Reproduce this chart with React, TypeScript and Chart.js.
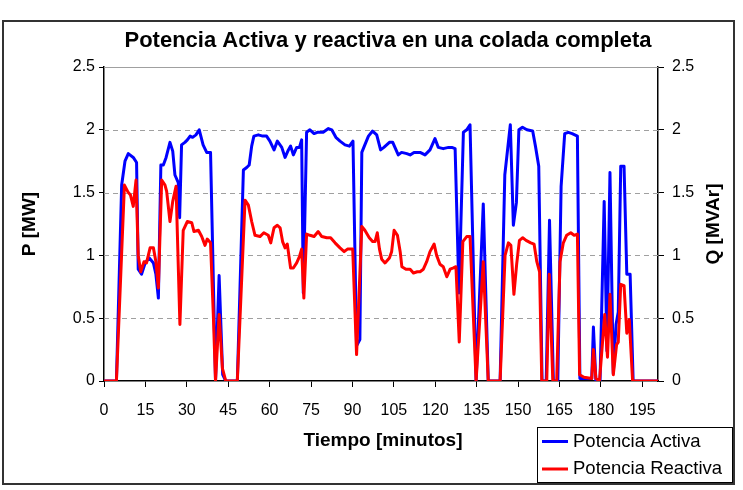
import React, { useEffect, useRef } from "react";
import { Chart, registerables } from "chart.js";

Chart.register(...registerables);

// Chart text
const TITLE = "Potencia Activa y reactiva en una colada completa";
const X_TITLE = "Tiempo [minutos]";
const Y_LEFT_TITLE = "P [MW]";
const Y_RIGHT_TITLE = "Q [MVAr]";
const SERIES_NAMES = ["Potencia Activa", "Potencia Reactiva"];

// Axis ticks
const X_TICKS = [0, 15, 30, 45, 60, 75, 90, 105, 120, 135, 150, 165, 180, 195];
const Y_TICKS = [0, 0.5, 1, 1.5, 2, 2.5];
const X_MAX = 200.7;

// Active power P [MW] over time [min]
const TIME_P = [
  0, 4.5, 6.4, 7.6, 8.8, 10.6, 11.8, 12.4, 13.6, 14.9, 16.4, 17.9, 18.8, 19.7,
  20.6, 21.5, 22.5, 23.9, 24.9, 25.7, 26.9, 27.4, 28.1, 29.3, 30.2, 31.2, 32.1,
  33.3, 34.5, 35.9, 37.2, 38.6, 40.4, 41.7, 43.0, 44.1, 48.3, 50.5, 51.7, 52.6,
  53.5, 54.3, 55.9, 57.5, 58.9, 60.1, 61.6, 62.8, 64.4, 65.6, 66.8, 67.6, 68.6,
  69.8, 70.8, 71.6, 72.2, 73.4, 74.6, 76.1, 77.3, 79.4, 81.3, 82.5, 84.0, 85.5,
  87.3, 88.9, 90.2, 91.5, 92.7, 93.4, 94.5, 95.8, 97.3, 98.8, 100.2, 101.4,
  103.4, 104.6, 105.4, 106.6, 107.8, 109.7, 110.9, 112.3, 114.5, 116.3, 118.1,
  119.3, 119.9, 121.1, 122.9, 124.8, 126.0, 127.2, 128.6, 130.2, 131.4, 132.6,
  134.8, 137.4, 139.2, 143.5, 145.2, 147.2, 148.3, 149.4, 150.3, 151.6, 153.2,
  155.3, 156.3, 157.5, 158.7, 160.2, 161.4, 162.8, 164.4, 165.6, 166.9, 168.2,
  169.6, 171.5, 172.4, 176.7, 177.3, 178.2, 179.7, 181.2, 182.2, 183.3, 184.5,
  185.5, 186.3, 187.2, 188.4, 189.4, 190.6, 191.7, 200.7,
];
const P_MW = [
  0, 0, 1.56, 1.75, 1.81, 1.78, 1.74, 0.89, 0.85, 0.94, 0.98, 0.94, 0.85, 0.66,
  1.72, 1.72, 1.78, 1.9, 1.83, 1.64, 1.58, 1.3, 1.88, 1.9, 1.92, 1.95, 1.94,
  1.96, 2.0, 1.88, 1.82, 1.82, 0, 0.84, 0.05, 0, 0, 1.68, 1.7, 1.72,
  1.87, 1.95, 1.96, 1.95, 1.95, 1.91, 1.84, 1.91, 1.86, 1.78, 1.84, 1.87, 1.8,
  1.86, 1.86, 1.92, 0.7, 1.98, 2.0, 1.97, 1.98, 1.98, 2.01, 2.0, 1.94, 1.91,
  1.88, 1.87, 1.91, 0.28, 0.33, 1.82, 1.88, 1.95, 1.99, 1.96, 1.84, 1.86,
  1.9, 1.9, 1.86, 1.8, 1.82, 1.81, 1.8, 1.82, 1.82, 1.8, 1.84,
  1.9, 1.93, 1.86, 1.85, 1.86, 1.86, 1.85, 0.7, 1.98, 2.0, 2.04,
  0, 1.41, 0, 0, 1.64, 2.04, 1.24, 1.42, 2.0, 2.02, 2.0,
  1.99, 1.87, 1.71, 0, 0, 1.28, 0, 0, 1.55, 1.97, 1.98,
  1.97, 1.95, 0.02, 0.02, 0.43, 0, 0, 1.43, 0.24, 1.66, 0.06,
  0.45, 0.55, 1.71, 1.71, 0.85, 0.85, 0, 0,
];

// Reactive power Q [MVAr] over time [min]
const TIME_Q = [
  0, 4.5, 7.4, 8.8, 9.6, 10.6, 11.6, 12.4, 13.3, 14.5, 15.4, 16.7, 17.9, 18.8,
  19.7, 20.9, 22.1, 22.7, 23.9, 24.9, 26.1, 27.5, 28.7, 30.2, 31.8, 32.6, 34.2,
  35.4, 36.6, 37.4, 38.6, 39.6, 40.4, 41.7, 42.9, 44.1, 48.3, 51.1, 52.3, 53.5,
  54.7, 56.5, 57.9, 59.5, 60.4, 61.6, 62.8, 63.8, 64.7, 65.6, 66.4, 67.6, 68.6,
  69.8, 70.8, 71.6, 72.4, 73.4, 74.6, 76.1, 77.6, 78.9, 80.7, 82.1, 83.7, 85.5,
  87.0, 88.2, 90.1, 91.5, 93.4, 94.5, 96.1, 97.3, 98.2, 99.0, 99.8, 100.6,
  101.8, 103.4, 104.2, 105.1, 106.3, 107.3, 107.9, 109.4, 110.9, 112.1, 113.5,
  114.5, 115.7, 116.9, 118.1, 119.6, 120.5, 121.7, 122.9, 124.2, 125.4, 126.6,
  127.5, 128.7, 130.0, 131.4, 132.6, 134.8, 137.4, 139.2, 143.5, 145.3, 146.5,
  147.4, 148.5, 149.5, 150.5, 151.7, 152.9, 154.6, 155.8, 156.8, 157.8, 158.6,
  160.4, 161.3, 162.6, 164.0, 165.2, 166.4, 167.6, 169.1, 170.3, 171.5, 172.3,
  173.9, 176.7, 177.3, 178.2, 179.5, 181.4, 182.4, 183.3, 184.5, 185.7, 186.3,
  187.2, 188.4, 189.4, 190.3, 191.5, 200.7,
];
const Q_MVAR = [
  0, 0, 1.56, 1.5, 1.48, 1.39, 1.6, 1.0, 0.87, 0.95, 0.94, 1.06, 1.06, 0.95,
  0.74, 1.6, 1.56, 1.51, 1.27, 1.43, 1.55, 0.45, 1.2, 1.27, 1.26, 1.19, 1.2,
  1.15, 1.08, 1.13, 1.1, 0.53, 0, 0.53, 0.1, 0, 0, 1.44, 1.4, 1.27,
  1.16, 1.15, 1.18, 1.16, 1.1, 1.22, 1.24, 1.22, 1.11, 1.06, 1.09, 0.9, 0.9,
  0.94, 0.99, 1.05, 0.66, 1.17, 1.16, 1.15, 1.19, 1.15, 1.14, 1.14, 1.1, 1.06,
  1.03, 1.05, 1.05, 0.21, 1.23, 1.2, 1.14, 1.11, 1.11, 1.18, 1.05, 0.97,
  0.94, 0.98, 1.03, 1.2, 1.16, 1.03, 0.91, 0.89, 0.89, 0.86, 0.87,
  0.87, 0.89, 0.95, 1.03, 1.09, 1.0, 0.93, 0.91, 0.83, 0.89, 0.9,
  0.91, 0.31, 1.11, 1.15, 1.15, 0, 0.95, 0, 0, 1.0, 1.1,
  1.08, 0.69, 0.93, 1.12, 1.14, 1.12, 1.1, 1.09, 0.95, 0.87, 0,
  0, 0.85, 0, 0, 0.95, 1.1, 1.16, 1.18, 1.16, 1.17, 0.05,
  0.03, 0.02, 0.25, 0.02, 0, 0.53, 0.19, 0.69, 0.05, 0.29, 0.31,
  0.77, 0.76, 0.38, 0.49, 0, 0,
];

const FONT = '"Liberation Sans", Arial, sans-serif';
const BLUE = "#0000ff";
const RED = "#ff0000";

const pairs = (xs: number[], ys: number[]) => xs.map((x, i) => ({ x, y: ys[i] }));

// Frame, dashed gridlines, title, axis titles and legend
const decorations = {
  id: "decorations",
  beforeDraw(chart: any) {
    const { ctx } = chart;
    ctx.save();
    ctx.fillStyle = "#ffffff";
    ctx.fillRect(0, 0, chart.width, chart.height);
    ctx.strokeStyle = "#333333";
    ctx.lineWidth = 2;
    ctx.strokeRect(3, 21, 731, 463);
    ctx.restore();
  },
  beforeDatasetsDraw(chart: any) {
    const { ctx, chartArea } = chart;
    const y = chart.scales.y;
    ctx.save();
    ctx.strokeStyle = "#a0a0a0";
    ctx.lineWidth = 1;
    Y_TICKS.forEach((v) => {
      if (v === 0) return;
      const py = Math.round(y.getPixelForValue(v)) + 0.5;
      ctx.setLineDash(v === Y_TICKS[Y_TICKS.length - 1] ? [] : [5, 4]);
      ctx.beginPath();
      ctx.moveTo(chartArea.left, py);
      ctx.lineTo(chartArea.right, py);
      ctx.stroke();
    });
    ctx.restore();
  },
  afterDraw(chart: any) {
    const { ctx, chartArea } = chart;
    const midY = (chartArea.top + chartArea.bottom) / 2;
    ctx.save();
    ctx.fillStyle = "#000000";
    ctx.textAlign = "center";
    ctx.textBaseline = "middle";

    ctx.font = `bold 22px ${FONT}`;
    ctx.fillText(TITLE, 388, 41);

    ctx.font = `bold 19px ${FONT}`;
    ctx.fillText(X_TITLE, 383, 441);

    ctx.save();
    ctx.translate(30, midY);
    ctx.rotate(-Math.PI / 2);
    ctx.fillText(Y_LEFT_TITLE, 0, 0);
    ctx.restore();

    ctx.save();
    ctx.translate(714, midY);
    ctx.rotate(-Math.PI / 2);
    ctx.fillText(Y_RIGHT_TITLE, 0, 0);
    ctx.restore();

    // legend box
    const lx = 537, ly = 427, lw = 195, lh = 55;
    ctx.fillStyle = "#ffffff";
    ctx.fillRect(lx, ly, lw, lh);
    ctx.strokeStyle = "#000000";
    ctx.lineWidth = 1;
    ctx.strokeRect(lx + 0.5, ly + 0.5, lw, lh);
    const colors = [BLUE, RED];
    const rows = [441.5, 469];
    ctx.font = `18.5px ${FONT}`;
    ctx.textAlign = "left";
    SERIES_NAMES.forEach((name, i) => {
      ctx.strokeStyle = colors[i];
      ctx.lineWidth = 3;
      ctx.beginPath();
      ctx.moveTo(542, rows[i]);
      ctx.lineTo(568, rows[i]);
      ctx.stroke();
      ctx.fillStyle = "#000000";
      ctx.fillText(name, 573, rows[i]);
    });
    ctx.restore();
  },
};

const yTicksCommon = {
  font: { family: FONT, size: 16 },
  color: "#000000",
  padding: 4,
  callback: (v: any) => String(v),
};

export default function App() {
  const canvasRef = useRef<HTMLCanvasElement | null>(null);

  useEffect(() => {
    const canvas = canvasRef.current;
    if (!canvas) return;
    const chart = new Chart(canvas, {
      type: "line",
      data: {
        datasets: [
          {
            label: SERIES_NAMES[0],
            data: pairs(TIME_P, P_MW),
            borderColor: BLUE,
            backgroundColor: BLUE,
            borderWidth: 3,
            pointRadius: 0,
            tension: 0,
            borderJoinStyle: "round",
            yAxisID: "y",
            order: 1,
          },
          {
            label: SERIES_NAMES[1],
            data: pairs(TIME_Q, Q_MVAR),
            borderColor: RED,
            backgroundColor: RED,
            borderWidth: 3,
            pointRadius: 0,
            tension: 0,
            borderJoinStyle: "round",
            yAxisID: "y2",
            order: 0,
          },
        ],
      },
      options: {
        animation: false,
        responsive: false,
        devicePixelRatio: 1,
        layout: { padding: { top: 67, left: 0, right: 0, bottom: 0 } },
        plugins: {
          legend: { display: false },
          title: { display: false },
          tooltip: { enabled: false },
        },
        scales: {
          x: {
            type: "linear",
            min: 0,
            max: X_MAX,
            afterBuildTicks: (s: any) => {
              s.ticks = X_TICKS.map((value) => ({ value }));
            },
            afterFit: (s: any) => {
              s.height = 109;
            },
            ticks: {
              font: { family: FONT, size: 16 },
              color: "#000000",
              padding: 14,
              maxRotation: 0,
              autoSkip: false,
              callback: (v: any) => String(v),
            },
            grid: {
              drawOnChartArea: false,
              drawTicks: true,
              tickLength: 6,
              tickColor: "#000000",
              tickWidth: 1,
            },
            border: { color: "#000000", width: 1.5 },
          },
          y: {
            position: "left",
            min: 0,
            max: 2.5,
            afterBuildTicks: (s: any) => {
              s.ticks = Y_TICKS.map((value) => ({ value }));
            },
            afterFit: (s: any) => {
              s.width = 104;
            },
            ticks: yTicksCommon,
            grid: {
              drawOnChartArea: false,
              tickLength: 5,
              tickColor: "#000000",
              tickWidth: 1,
            },
            border: { color: "#000000", width: 1.5 },
          },
          y2: {
            position: "right",
            min: 0,
            max: 2.5,
            afterBuildTicks: (s: any) => {
              s.ticks = Y_TICKS.map((value) => ({ value }));
            },
            afterFit: (s: any) => {
              s.width = 85;
            },
            ticks: { ...yTicksCommon, padding: 8 },
            grid: {
              drawOnChartArea: false,
              tickLength: 6,
              tickColor: "#000000",
              tickWidth: 1,
            },
            border: { color: "#000000", width: 1.5 },
          },
        },
      },
      plugins: [decorations],
    } as any);
    return () => chart.destroy();
  }, []);

  return (
    <div style={{ position: "absolute", left: 0, top: 0, width: 743, height: 490, background: "#ffffff" }}>
      <canvas ref={canvasRef} width={743} height={490} style={{ display: "block", width: 743, height: 490 }} />
    </div>
  );
}
